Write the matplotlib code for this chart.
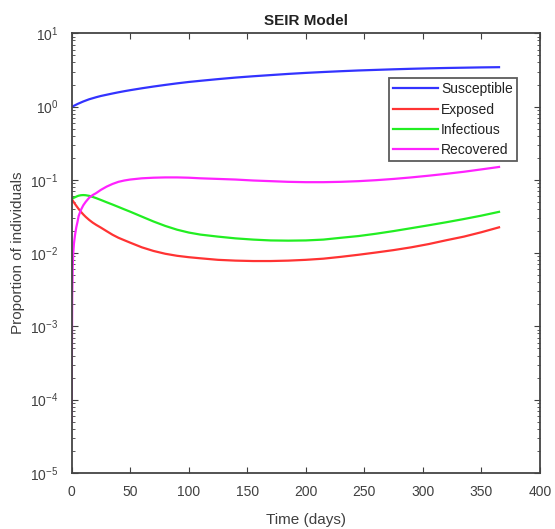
import matplotlib.pyplot as plt

plt.rcParams['font.family'] = ['Liberation Sans', 'DejaVu Sans']

# Values (time in days)
t = [0, 0.5, 1, 1.5, 2, 3, 4, 5, 6, 8, 10, 12, 15, 18, 21, 25, 30, 35, 40,
     45, 50, 60, 70, 80, 90, 100, 110, 125, 140, 155, 170, 185, 200, 215,
     230, 245, 260, 275, 290, 305, 320, 335, 350, 365]
susceptible = [0.989, 0.998, 1.007, 1.016, 1.026, 1.045, 1.064, 1.084, 1.102,
               1.138, 1.175, 1.208, 1.259, 1.300, 1.343, 1.396, 1.452, 1.510,
               1.567, 1.622, 1.675, 1.778, 1.879, 1.977, 2.075, 2.168, 2.249,
               2.371, 2.489, 2.594, 2.692, 2.793, 2.884, 2.965, 3.041, 3.112,
               3.170, 3.228, 3.281, 3.327, 3.365, 3.396, 3.428, 3.451]
exposed = [0.055, 0.0535, 0.052, 0.0506, 0.0492, 0.0466, 0.0443, 0.0421,
           0.0401, 0.0366, 0.0337, 0.0313, 0.0284, 0.0261, 0.0243, 0.0223,
           0.0199, 0.0178, 0.0162, 0.0150, 0.0139, 0.0120, 0.0107, 0.0098,
           0.0092, 0.0088, 0.0085, 0.0081, 0.0079, 0.0078, 0.0078, 0.0079,
           0.0081, 0.0084, 0.0089, 0.0095, 0.0102, 0.0110, 0.0120, 0.0133,
           0.0150, 0.0168, 0.0193, 0.0225]
infectious = [0.055, 0.0555, 0.056, 0.0565, 0.057, 0.058, 0.059, 0.060,
              0.0608, 0.0617, 0.062, 0.0617, 0.0605, 0.0585, 0.0563, 0.0532,
              0.0494, 0.0460, 0.0427, 0.0396, 0.0368, 0.0315, 0.0270, 0.0235,
              0.0209, 0.0191, 0.0179, 0.0168, 0.0159, 0.0153, 0.0149, 0.0148,
              0.0149, 0.0153, 0.0162, 0.0171, 0.0184, 0.0200, 0.0219, 0.0240,
              0.0264, 0.0292, 0.0325, 0.0366]
recovered = [5e-5, 2.5e-3, 7e-3, 0.0105, 0.0135, 0.018, 0.0225, 0.0265,
             0.032, 0.039, 0.045, 0.050, 0.057, 0.062, 0.066, 0.073, 0.081,
             0.088, 0.094, 0.098, 0.101, 0.105, 0.107, 0.108, 0.108, 0.107,
             0.105, 0.103, 0.101, 0.098, 0.096, 0.094, 0.093, 0.093, 0.094,
             0.096, 0.099, 0.103, 0.108, 0.114, 0.121, 0.129, 0.139, 0.150]

fig = plt.figure(figsize=(5.55, 5.29), dpi=100)
ax = fig.add_axes([0.129, 0.106, 0.844, 0.831])

ax.semilogy(t, susceptible, color='#3333ff', lw=1.6, label='Susceptible')
ax.semilogy(t, exposed, color='#ff3333', lw=1.6, label='Exposed')
ax.semilogy(t, infectious, color='#22ee22', lw=1.6, label='Infectious')
ax.semilogy(t, recovered, color='#ff22ff', lw=1.6, label='Recovered')

ax.set_xlim(0, 400)
ax.set_ylim(1e-5, 1e1)
ax.set_xticks(range(0, 401, 50))

txt = '#404040'
ax.tick_params(which='both', direction='in', top=True, right=True,
               colors=txt, labelsize=10)
ax.tick_params(which='major', length=4)
ax.tick_params(which='minor', length=2)
ax.tick_params(axis='x', pad=8.5)
ax.tick_params(axis='y', pad=9.5)
for s in ax.spines.values():
    s.set_color('#444444')
    s.set_linewidth(1.3)

ax.set_xlabel('Time (days)', fontsize=11, color=txt, labelpad=10)
ax.set_ylabel('Proportion of individuals', fontsize=11, color=txt, labelpad=4)
ax.set_title('SEIR Model', fontsize=11, fontweight='bold', color='#222222', pad=6)

leg = ax.legend(loc='upper right', bbox_to_anchor=(0.951, 0.898), fontsize=10,
                frameon=True, fancybox=False, borderpad=0.3, labelspacing=0.45,
                handlelength=3.2, handletextpad=0.25, borderaxespad=0)
leg.get_frame().set_edgecolor('#333333')
leg.get_frame().set_linewidth(1.3)
for txt_item in leg.get_texts():
    txt_item.set_color('#222222')

plt.savefig('out.png', dpi=100)
